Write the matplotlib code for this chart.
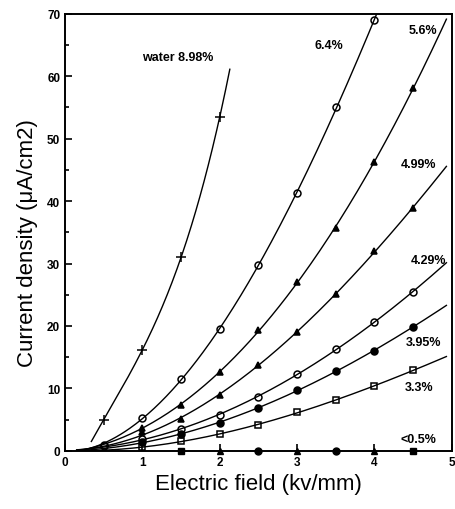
import numpy as np
import matplotlib
matplotlib.use('Agg')
import matplotlib.pyplot as plt
from matplotlib.ticker import MultipleLocator

plt.rcParams['font.family'] = ['Liberation Sans', 'DejaVu Sans']

# datos (kv/mm, uA/cm2)
x_water = [0.5, 1.0, 1.5, 2.0]
y_water = [5.0, 16.2, 31.0, 53.5]

x_64 = [0.5, 1.0, 1.5, 2.0, 2.5, 3.0, 3.5, 4.0]
y_64 = [1.0, 5.3, 11.5, 19.5, 29.7, 41.3, 55.0, 69.0]

x_56 = [1.0, 1.5, 2.0, 2.5, 3.0, 3.5, 4.0, 4.5]
y_56 = [3.7, 7.3, 12.7, 19.3, 27.1, 35.7, 46.3, 58.1]

x_499 = [1.0, 1.5, 2.0, 2.5, 3.0, 3.5, 4.0, 4.5]
y_499 = [3.0, 5.1, 8.9, 13.7, 19.1, 25.2, 32.0, 38.9]

x_429 = [0.5, 1.0, 1.5, 2.0, 2.5, 3.0, 3.5, 4.0, 4.5]
y_429 = [0.8, 1.9, 3.5, 5.7, 8.7, 12.3, 16.3, 20.6, 25.5]

x_395 = [1.0, 1.5, 2.0, 2.5, 3.0, 3.5, 4.0, 4.5]
y_395 = [1.4, 2.7, 4.5, 6.9, 9.7, 12.8, 16.0, 19.9]

x_33 = [1.0, 1.5, 2.0, 2.5, 3.0, 3.5, 4.0, 4.5]
y_33 = [0.6, 1.5, 2.7, 4.2, 6.2, 8.1, 10.4, 12.9]

x_05 = [1.5, 2.0, 2.5, 3.0, 3.5, 4.0, 4.5]
y_05 = [0.0, 0.0, 0.0, 0.0, 0.0, 0.0, 0.0]

series = [
    # x, y, marcador, relleno, rango de la curva
    (x_water, y_water, '+', 'k', (0.34, 2.13)),
    (x_64, y_64, 'o', 'none', (0.15, 4.06)),
    (x_56, y_56, '^', 'k', (0.15, 4.93)),
    (x_499, y_499, '^', 'k', (0.15, 4.93)),
    (x_429, y_429, 'o', 'none', (0.15, 4.93)),
    (x_395, y_395, 'o', 'k', (0.15, 4.93)),
    (x_33, y_33, 's', 'none', (0.15, 4.93)),
]

etiquetas = [
    ('water 8.98%', 1.0, 63.0),
    ('6.4%', 3.23, 65.0),
    ('5.6%', 4.44, 67.4),
    ('4.99%', 4.34, 46.0),
    ('4.29%', 4.47, 30.5),
    ('3.95%', 4.40, 17.5),
    ('3.3%', 4.39, 10.3),
    ('<0.5%', 4.34, 1.9),
]

fig = plt.figure(figsize=(4.55, 5.10), dpi=100)
ax = fig.add_axes([0.143, 0.114, 0.850, 0.857])

for xs, ys, mk, fc, (x0, x1) in series:
    xs = np.array(xs)
    ys = np.array(ys)
    # curva suave ajustada a los puntos
    xf = np.concatenate([[x0], xs]) if x0 < xs[0] and mk != '+' else xs
    yf = np.concatenate([[0.0], ys]) if x0 < xs[0] and mk != '+' else ys
    c = np.polyfit(xf, yf, 3)
    xx = np.linspace(x0, x1, 200)
    yy = np.clip(np.polyval(c, xx), 0, None)
    ax.plot(xx, yy, color='black', linewidth=1.0)
    ax.plot(xs, ys, linestyle='none', marker=mk, markersize=5 if mk != '+' else 7,
            markerfacecolor=fc, markeredgecolor='black', markeredgewidth=1.1)

marcas_05 = ['s', '^', 'o', '^', 'o', '^', 's']
for xv, yv, mk in zip(x_05, y_05, marcas_05):
    ax.plot(xv, yv, linestyle='none', marker=mk, markersize=5, color='black', clip_on=False)

for txt, tx, ty in etiquetas:
    ax.text(tx, ty, txt, fontsize=9, fontweight='bold', va='center', ha='left')

ax.set_xlim(0, 5)
ax.set_ylim(0, 70)
ax.xaxis.set_major_locator(MultipleLocator(1))
ax.yaxis.set_major_locator(MultipleLocator(10))
ax.yaxis.set_minor_locator(MultipleLocator(5))
ax.tick_params(which='both', direction='in', labelsize=8.5, width=1.2)
ax.tick_params(which='major', length=5)
ax.tick_params(which='minor', length=3)
for lab in ax.get_xticklabels() + ax.get_yticklabels():
    lab.set_fontweight('bold')
for sp in ax.spines.values():
    sp.set_linewidth(1.4)

ax.set_xlabel('Electric field (kv/mm)', fontsize=16)
ax.set_ylabel('Current density (μA/cm2)', fontsize=16)
ax.yaxis.set_label_coords(-0.07, 0.478)

plt.savefig('out.png', dpi=100)
